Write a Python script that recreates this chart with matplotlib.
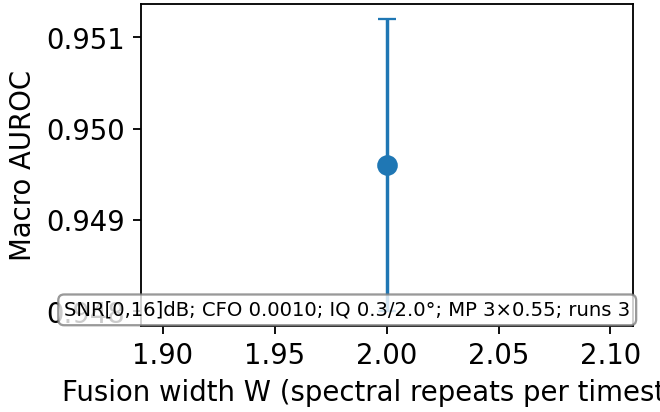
import matplotlib
matplotlib.use("Agg")
import matplotlib.pyplot as plt

# === data ===
widths = [2]
auroc_mean = [0.9496]
auroc_std = [0.0016]
note = "SNR[0,16]dB; CFO 0.0010; IQ 0.3/2.0°; MP 3×0.55; runs 3"

plt.rcParams["font.size"] = 12

fig, ax = plt.subplots(figsize=(4, 2.5), dpi=165)
fig.subplots_adjust(left=0.213, right=0.9587, bottom=0.209, top=0.988)

ax.errorbar(widths, auroc_mean, yerr=auroc_std, fmt="o", ms=8, capsize=4,
            color="tab:blue")
ax.set_xlabel("Fusion width W (spectral repeats per timestep)")
ax.set_ylabel("Macro AUROC")
ax.set_yticks([0.948, 0.949, 0.950, 0.951])

ax.text(0.995, 0.02, note, transform=ax.transAxes, ha="right", va="bottom",
        fontsize=8.55,
        bbox=dict(boxstyle="round,pad=0.3", facecolor="white", alpha=0.8,
                  edgecolor="gray"))

fig.savefig("out.png", dpi=165)
